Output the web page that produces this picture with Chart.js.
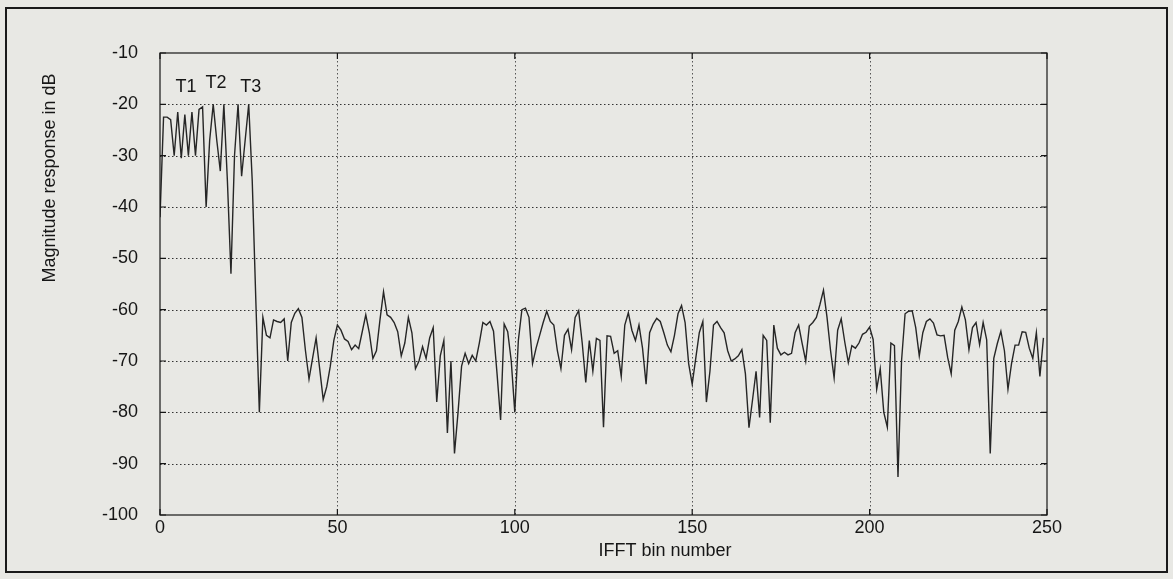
<!DOCTYPE html>
<html>
<head>
<meta charset="utf-8">
<script src="https://cdn.jsdelivr.net/npm/chart.js@4/dist/chart.umd.min.js"></script>
<style>
  html, body { margin: 0; padding: 0; background: #e8e8e4; }
  canvas { display: block; }
</style>
</head>
<body>
<canvas id="c" width="1173" height="579"></canvas>
<script>
// ---- data ----
const magnitudeDb = [
  -42, -22.5, -22.5, -23, -30, -21.5, -30.5, -22, -30, -21.5,
  -30, -21, -20.5, -40, -27, -20, -27, -33, -20, -35,
  -53, -30, -20, -34, -27, -20, -35, -58, -80, -61.5,
  -65, -65.5, -62, -62.3, -62.5, -61.8, -70, -62.5, -60.7, -59.8,
  -61.5, -68, -73.5, -69.5, -65.5, -71.5, -77.5, -75, -71, -66,
  -63, -64, -65.7, -66.2, -67.8, -66.9, -67.6, -64.3, -61, -64.5,
  -69.5, -68, -62, -56.5, -61, -61.5, -62.5, -64.3, -69, -66.5,
  -61.5, -64.5, -71.5, -70, -67.2, -69.5, -65.5, -63.5, -78, -69,
  -66, -84, -70, -88, -80, -71, -68.5, -70.5, -68.9, -70,
  -66.5, -62.5, -63, -62.3, -64.2, -72.5, -81.5, -62.8, -64.3, -70,
  -80, -66, -60, -59.7, -61.5, -70.5, -67.5, -65, -62.5, -60.3,
  -62.3, -63, -68, -71.5, -65, -63.8, -67.8, -61.5, -60.2, -66.5,
  -74.2, -66, -72, -65.6, -66, -82.9, -65.1, -65.2, -68.5, -68,
  -73, -63, -60.6, -64, -66, -63, -67.5, -74.5, -64.5, -62.8,
  -61.7, -62.3, -64.5, -66.9, -68.2, -65, -60.8, -59.2, -62.5, -70.5,
  -74.5, -69.5, -64.5, -62.3, -78, -72, -63, -62.3, -63.5, -64.5,
  -68, -70, -69.6, -69, -67.8, -72.5, -83, -77.6, -72, -81,
  -65, -66, -82, -63, -67.5, -68.8, -68.3, -68.8, -68.5, -64.5,
  -63, -66.6, -70, -63.2, -62.5, -61.5, -59, -56.2, -61.5, -68,
  -73.3, -64, -61.8, -66.3, -70.3, -67, -67.5, -66.5, -64.8, -64.4,
  -63.4, -65.8, -75.5, -71.5, -80, -82.9, -66.5, -67, -92.6, -70,
  -60.8, -60.3, -60.2, -63.5, -69, -64.5, -62.3, -61.8, -62.6, -64.9,
  -65.1, -65, -69.3, -72.5, -64, -62.3, -59.5, -62, -67.8, -63.5,
  -62.5, -66.8, -62.5, -65.9, -88, -69.5, -66.6, -64.2, -68, -75.5,
  -70.5, -66.9, -66.9, -64.3, -64.4, -67.5, -69.5, -64.5, -73, -65.5
];
const binNumbers = magnitudeDb.map((_, i) => i);
const xTickValues = [0, 50, 100, 150, 200, 250];
const yTickValues = [-100, -90, -80, -70, -60, -50, -40, -30, -20, -10];
const peakLabels = ['T1', 'T2', 'T3'];
const peakLabelBins = [7.3, 15.8, 25.6];
const peakLabelDb = [-16.6, -15.9, -16.6];
const xTitle = 'IFFT bin number';
const yTitle = 'Magnitude response in dB';

// ---- styling ----
const BG = '#e8e8e4';
const INK = '#161616';
const FONT = 'Liberation Sans, Arial, sans-serif';

const points = binNumbers.map((b, i) => ({ x: b, y: magnitudeDb[i] }));

const matlabPlugin = {
  id: 'matlabLook',
  beforeDraw(chart) {
    const ctx = chart.ctx;
    ctx.save();
    ctx.fillStyle = BG;
    ctx.fillRect(0, 0, chart.width, chart.height);
    ctx.restore();
  },
  beforeDatasetsDraw(chart) {
    const { ctx, chartArea: a, scales: { x, y } } = chart;
    ctx.save();
    ctx.lineWidth = 1;
    ctx.setLineDash([1.5, 2.5]);
    ctx.strokeStyle = '#555555';
    xTickValues.forEach(v => {
      const px = Math.round(x.getPixelForValue(v)) + 0.5;
      if (px <= a.left + 1 || px >= a.right - 1) return;
      ctx.beginPath(); ctx.moveTo(px, a.top); ctx.lineTo(px, a.bottom); ctx.stroke();
    });
    ctx.strokeStyle = '#333333';
    yTickValues.forEach(v => {
      const py = Math.round(y.getPixelForValue(v)) + 0.5;
      if (py <= a.top + 1 || py >= a.bottom - 1) return;
      ctx.beginPath(); ctx.moveTo(a.left, py); ctx.lineTo(a.right, py); ctx.stroke();
    });
    ctx.restore();
  },
  afterDatasetsDraw(chart) {
    const { ctx, chartArea: a, scales: { x, y } } = chart;
    ctx.save();
    // plot box
    ctx.setLineDash([]);
    ctx.strokeStyle = INK;
    ctx.lineWidth = 1.2;
    ctx.strokeRect(a.left, a.top, a.right - a.left, a.bottom - a.top);
    // inward ticks
    const tl = 6;
    ctx.beginPath();
    xTickValues.forEach(v => {
      const px = x.getPixelForValue(v);
      ctx.moveTo(px, a.bottom); ctx.lineTo(px, a.bottom - tl);
      ctx.moveTo(px, a.top); ctx.lineTo(px, a.top + tl);
    });
    yTickValues.forEach(v => {
      const py = y.getPixelForValue(v);
      ctx.moveTo(a.left, py); ctx.lineTo(a.left + tl, py);
      ctx.moveTo(a.right, py); ctx.lineTo(a.right - tl, py);
    });
    ctx.stroke();
    // peak labels
    ctx.fillStyle = INK;
    ctx.font = '18px ' + FONT;
    ctx.textAlign = 'center';
    ctx.textBaseline = 'middle';
    peakLabels.forEach((t, i) => {
      ctx.fillText(t, x.getPixelForValue(peakLabelBins[i]), y.getPixelForValue(peakLabelDb[i]));
    });
    // x axis title (offset to the right as in the reference)
    ctx.fillText(xTitle, 665, 551);
    // y axis title (sits in the upper part of the axis in the reference)
    ctx.save();
    ctx.translate(50, 178);
    ctx.rotate(-Math.PI / 2);
    ctx.fillText(yTitle, 0, 0);
    ctx.restore();
    // outer frame
    ctx.strokeStyle = '#1a1a1a';
    ctx.lineWidth = 2;
    ctx.strokeRect(6, 8, 1161, 564);
    ctx.restore();
  }
};

new Chart(document.getElementById('c'), {
  type: 'line',
  data: {
    datasets: [{
      data: points,
      borderColor: '#262626',
      borderWidth: 1.4,
      pointRadius: 0,
      tension: 0,
      fill: false
    }]
  },
  options: {
    responsive: false,
    animation: false,
    devicePixelRatio: 1,
    layout: { padding: { left: 0, right: 126, top: 53, bottom: 0 } },
    plugins: { legend: { display: false }, tooltip: { enabled: false } },
    scales: {
      x: {
        type: 'linear',
        min: 0, max: 250,
        afterBuildTicks: s => { s.ticks = xTickValues.map(v => ({ value: v })); },
        afterFit: s => { s.height = 64; },
        grid: { display: false, drawTicks: false },
        border: { display: false },
        ticks: { color: INK, font: { family: FONT, size: 18 }, padding: 2, maxRotation: 0, autoSkip: false }
      },
      y: {
        type: 'linear',
        min: -100, max: -10,
        afterBuildTicks: s => { s.ticks = yTickValues.map(v => ({ value: v })); },
        afterFit: s => { s.width = 160; },
        grid: { display: false, drawTicks: false },
        border: { display: false },
        ticks: { color: INK, font: { family: FONT, size: 18 }, padding: 22, autoSkip: false },
        title: { display: false, text: yTitle }
      }
    }
  },
  plugins: [matlabPlugin]
});
</script>
</body>
</html>
